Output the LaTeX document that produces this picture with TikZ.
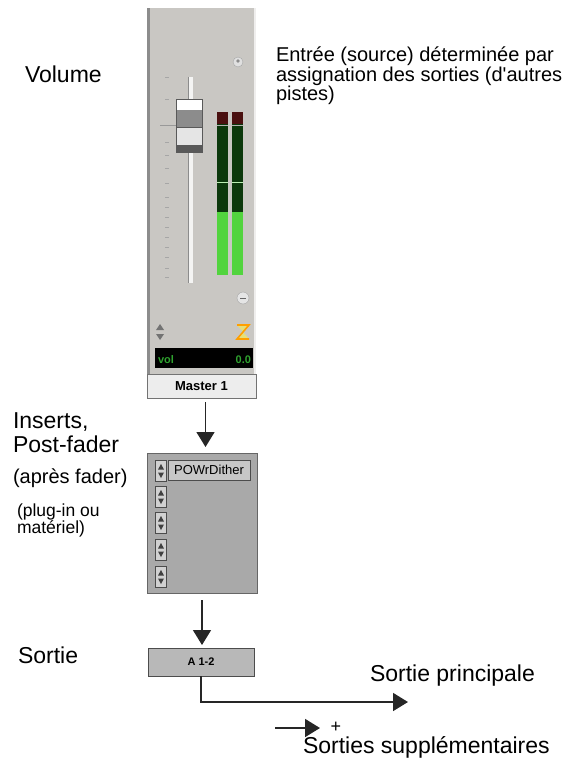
\documentclass[tikz,border=0pt]{standalone}
\usepackage{fontspec}
\setmainfont{Liberation Sans}[Ligatures=TeXOff]
\usetikzlibrary{arrows.meta}

\definecolor{stripgray}{HTML}{C9C7C3}
\definecolor{insgray}{HTML}{A9A9A9}
\definecolor{meterdark}{HTML}{0C380C}
\definecolor{meterlight}{HTML}{52D43E}
\definecolor{meterred}{HTML}{4A1010}
\definecolor{volgreen}{HTML}{2FA22F}

\begin{document}
\begin{tikzpicture}[x=1pt,y=-1pt,
  every node/.style={inner sep=0pt, outer sep=0pt},
  lbl/.style={anchor=base west, font=\fontsize{23}{26}\selectfont},
  smalllbl/.style={anchor=base west, font=\fontsize{20}{22}\selectfont},
  arr/.style={-{Triangle[length=15pt,width=18pt]}, line width=1.6pt, black!85},
  btn/.style={draw=black!70, fill=black!18, line width=0.8pt, minimum width=11pt, minimum height=21pt}]
\useasboundingbox (0,0) rectangle (567,765);

% channel strip
\fill[stripgray] (147,8) rectangle (256,374);
\fill[black!45] (147,8) rectangle (150,374);
\fill[white!70!stripgray] (254,8) rectangle (256,374);
\foreach \ty in {77,99,125,142,155,168,183,197,207,217,227,237,247,257,268,277}
  \draw[black!35, line width=0.8pt] (165,\ty) -- (169,\ty);
\fill[white!80!stripgray] (188,77) rectangle (193,283);
\draw[black!45] (188,77) -- (188,283);
% fader cap
\fill[black!65] (176,99) rectangle (203,153);
\fill[white] (177,100) rectangle (202,110);
\fill[black!45] (177,110) rectangle (202,127);
\fill[white!90!black] (177,128) rectangle (202,145);
\draw[black!40] (160,125) -- (176,125);
% meters
\foreach \mx in {217,232} {
  \fill[meterred] (\mx,112) rectangle ({\mx+11},124);
  \fill[meterdark] (\mx,124) rectangle ({\mx+11},212);
  \fill[meterlight] (\mx,212) rectangle ({\mx+11},275);
  \draw[white!60!meterlight, line width=0.8pt] (\mx,182) -- ({\mx+11},182);
  \draw[white!70!black, line width=0.6pt] (\mx,125) -- ({\mx+11},125);
}
\draw[black!35, fill=black!12] (238,62) circle (5);
\fill[black!45] (238,61) circle (1.8);
\draw[black!35, fill=black!10] (243,298) circle (6);
\draw[black!60, line width=0.8pt] (240,298) -- (246,298);
\fill[black!55] (156,330) -- (164,330) -- (160,324) -- cycle;
\fill[black!55] (156,334) -- (164,334) -- (160,340) -- cycle;
\fill[yellow!45!stripgray] (237,325) -- (249,325) -- (237,339) -- (249,339) -- cycle;
\draw[orange!75!yellow, line width=1.6pt] (237,325) -- (249,325) -- (237,339) -- (249,339);
\fill[black] (155,348) rectangle (253,368);
\node[anchor=base west, text=volgreen, font=\bfseries\fontsize{11}{11}\selectfont] (vol) at (158,363) {vol};
\node[anchor=base east, text=volgreen, font=\bfseries\fontsize{11}{11}\selectfont] (gain) at (251,363) {0.0};
\node[draw=black!55, fill=black!7, minimum width=109pt, minimum height=24pt, font=\bfseries\fontsize{13}{13}\selectfont] (master) at (201.5,386) {Master 1};

% inserts
\node[draw=black!60, fill=insgray, line width=1pt, minimum width=110pt, minimum height=140pt] (inserts) at (202,523) {};
\node[draw=black!70, fill=black!22, line width=0.8pt, minimum width=82pt, minimum height=20pt, font=\fontsize{13}{13}\selectfont] (plug) at (209,470) {POWrDither};
\foreach \by in {471,497,523,550,577} {
  \node[btn] at (161,\by) {};
  \fill[black!75] (158,{\by-1.5}) -- (164,{\by-1.5}) -- (161,{\by-7}) -- cycle;
  \fill[black!75] (158,{\by+1.5}) -- (164,{\by+1.5}) -- (161,{\by+7}) -- cycle;
}

% output
\node[draw=black!70, fill=black!28, line width=1pt, minimum width=106pt, minimum height=28pt, font=\bfseries\fontsize{11}{11}\selectfont] (out) at (201,662) {A 1-2};
\coordinate (mainend) at (408,702);
\coordinate (extrastart) at (275,728);
\coordinate (extraend) at (320,728);

\draw[arr, shorten <=4pt, shorten >=6pt] ([xshift=4pt]master.south) -- ([xshift=4pt]master.south |- inserts.north);
\draw[arr, shorten <=7pt, shorten >=3pt] (inserts.south) -- (inserts.south |- out.north);
\draw[arr] (out.south) |- (mainend);
\draw[arr] (extrastart) -- (extraend);

% labels
\node[lbl] (volume) at (25,83) {Volume};
\node[anchor=base west, font=\fontsize{20}{22}\selectfont] (src1) at (276,62) {Entrée (source) déterminée par};
\node[anchor=base west, font=\fontsize{20}{22}\selectfont] (src2) at (276,82) {assignation des sorties (d'autres};
\node[anchor=base west, font=\fontsize{20}{22}\selectfont] (src3) at (276,101) {pistes)};
\node[lbl] (ins1) at (13,428) {Inserts,};
\node[lbl] (ins2) at (13,452) {Post-fader};
\node[smalllbl] (ins3) at (13,483) {(après fader)};
\node[anchor=base west, font=\fontsize{17.5}{19}\selectfont] (ins4) at (17,516) {(plug-in ou};
\node[anchor=base west, font=\fontsize{17.5}{19}\selectfont] (ins5) at (17,533) {matériel)};
\node[lbl] (sortie) at (18,663) {Sortie};
\node[lbl] (princ) at (370,681) {Sortie principale};
\node[font=\fontsize{18}{18}\selectfont] (plus) at (336,727) {+};
\node[lbl] (suppl) at (303,753) {Sorties supplémentaires};
\end{tikzpicture}
\end{document}
